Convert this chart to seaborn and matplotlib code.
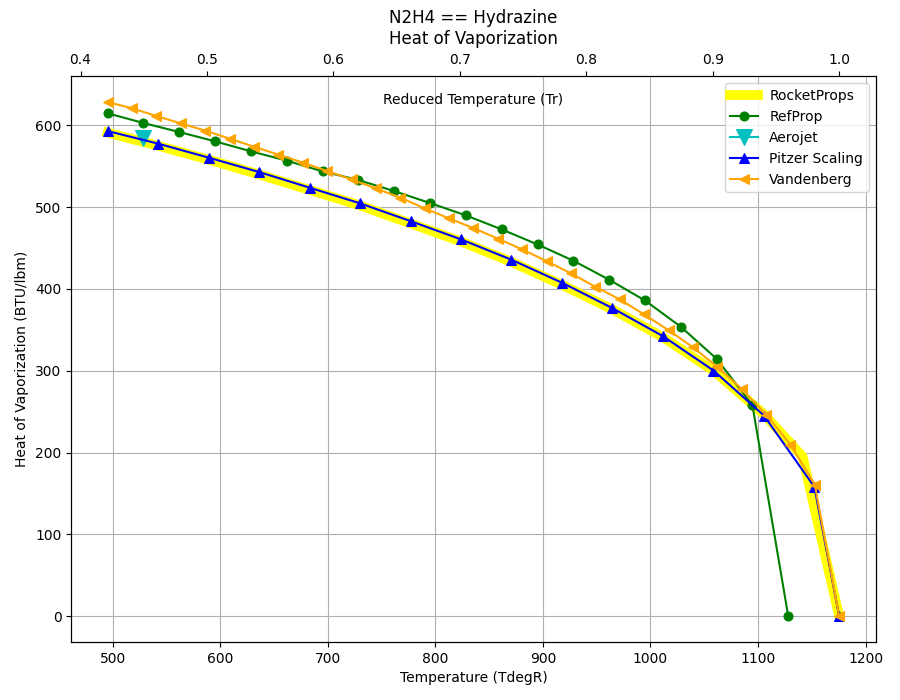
import matplotlib
matplotlib.use("Agg")
import matplotlib.pyplot as plt
import seaborn as sns

# critical temperature of hydrazine (degR), used for the reduced temperature axis
Tc = 1175.4

# RocketProps (thick yellow, no markers)
rp_T = [495.4, 542.3, 589.3, 636.2, 683.1, 730.1, 777.0, 823.9, 870.8, 917.8,
        964.7, 1011.6, 1058.6, 1105.5, 1141.5, 1175.4]
rp_H = [591.0, 575.0, 558.0, 540.0, 521.0, 502.0, 480.0, 458.0, 433.0, 405.0,
        375.0, 341.0, 300.0, 247.0, 195.0, 0.0]

# RefProp
ref_T = [495.4, 528.7, 562.0, 595.3, 628.6, 661.9, 695.2, 728.5, 761.8, 795.1,
         828.4, 861.7, 895.0, 928.3, 961.6, 994.9, 1028.2, 1061.5, 1094.8, 1128.1]
ref_H = [614.7, 602.8, 591.8, 580.4, 568.2, 556.8, 543.7, 533.1, 519.6, 505.0,
         489.9, 472.8, 454.4, 434.5, 411.3, 385.9, 353.8, 314.6, 257.9, 0.0]

# Aerojet (single point)
aj_T = [527.9]
aj_H = [585.0]

# Pitzer Scaling
pz_T = [495.4, 542.3, 589.3, 636.2, 683.1, 730.1, 777.0, 823.9, 870.8, 917.8,
        964.7, 1011.6, 1058.6, 1105.5, 1152.4, 1175.4]
pz_H = [593.0, 577.6, 560.5, 542.9, 523.8, 504.6, 482.9, 460.6, 435.7, 407.6,
        376.5, 342.3, 300.3, 245.3, 158.0, 0.0]

# Vandenberg
vb_T = [495.4, 518.1, 540.7, 563.4, 586.1, 608.8, 631.4, 654.1, 676.8, 699.4,
        722.1, 744.8, 767.4, 790.1, 812.8, 835.4, 858.1, 880.8, 903.5, 926.1,
        948.8, 971.5, 994.1, 1016.8, 1039.5, 1062.1, 1084.8, 1107.5, 1130.1,
        1152.8, 1175.4]
vb_H = [628.5, 620.8, 611.4, 602.4, 593.5, 583.7, 573.9, 564.2, 554.4, 544.1,
        533.9, 522.9, 511.6, 498.5, 486.2, 474.4, 461.5, 448.3, 434.0, 419.0,
        402.7, 387.2, 368.8, 349.6, 328.7, 304.8, 277.9, 246.5, 209.8, 160.9, 0.0]

fig, ax = plt.subplots(figsize=(9, 7), dpi=100)
fig.subplots_adjust(left=0.079, right=0.973, bottom=0.083, top=0.891)

sns.lineplot(x=rp_T, y=rp_H, ax=ax, color='yellow', linewidth=7, label='RocketProps')
sns.lineplot(x=ref_T, y=ref_H, ax=ax, color='g', marker='o', markersize=6.5,
             markeredgecolor='g', label='RefProp')
sns.lineplot(x=aj_T, y=aj_H, ax=ax, color='c', marker='v', markersize=12,
             markeredgecolor='c', label='Aerojet')
sns.lineplot(x=pz_T, y=pz_H, ax=ax, color='b', marker='^', markersize=6.5,
             markeredgecolor='b', label='Pitzer Scaling')
sns.lineplot(x=vb_T, y=vb_H, ax=ax, color='orange', marker='<', markersize=6.5,
             markeredgecolor='orange', label='Vandenberg')

ax.grid(True, color='#b0b0b0', linewidth=0.8)
ax.set_xlabel('Temperature (TdegR)')
ax.set_ylabel('Heat of Vaporization (BTU/lbm)')
ax.legend(loc='upper right')

# top axis: reduced temperature
ax2 = ax.twiny()
xmin, xmax = ax.get_xlim()
ax2.set_xlim(xmin / Tc, xmax / Tc)
ax2.text(0.5, 0.958, 'Reduced Temperature (Tr)', transform=ax2.transAxes,
         ha='center', va='center')

ax.set_title('N2H4 == Hydrazine\nHeat of Vaporization')

fig.savefig('out.png', dpi=100)
